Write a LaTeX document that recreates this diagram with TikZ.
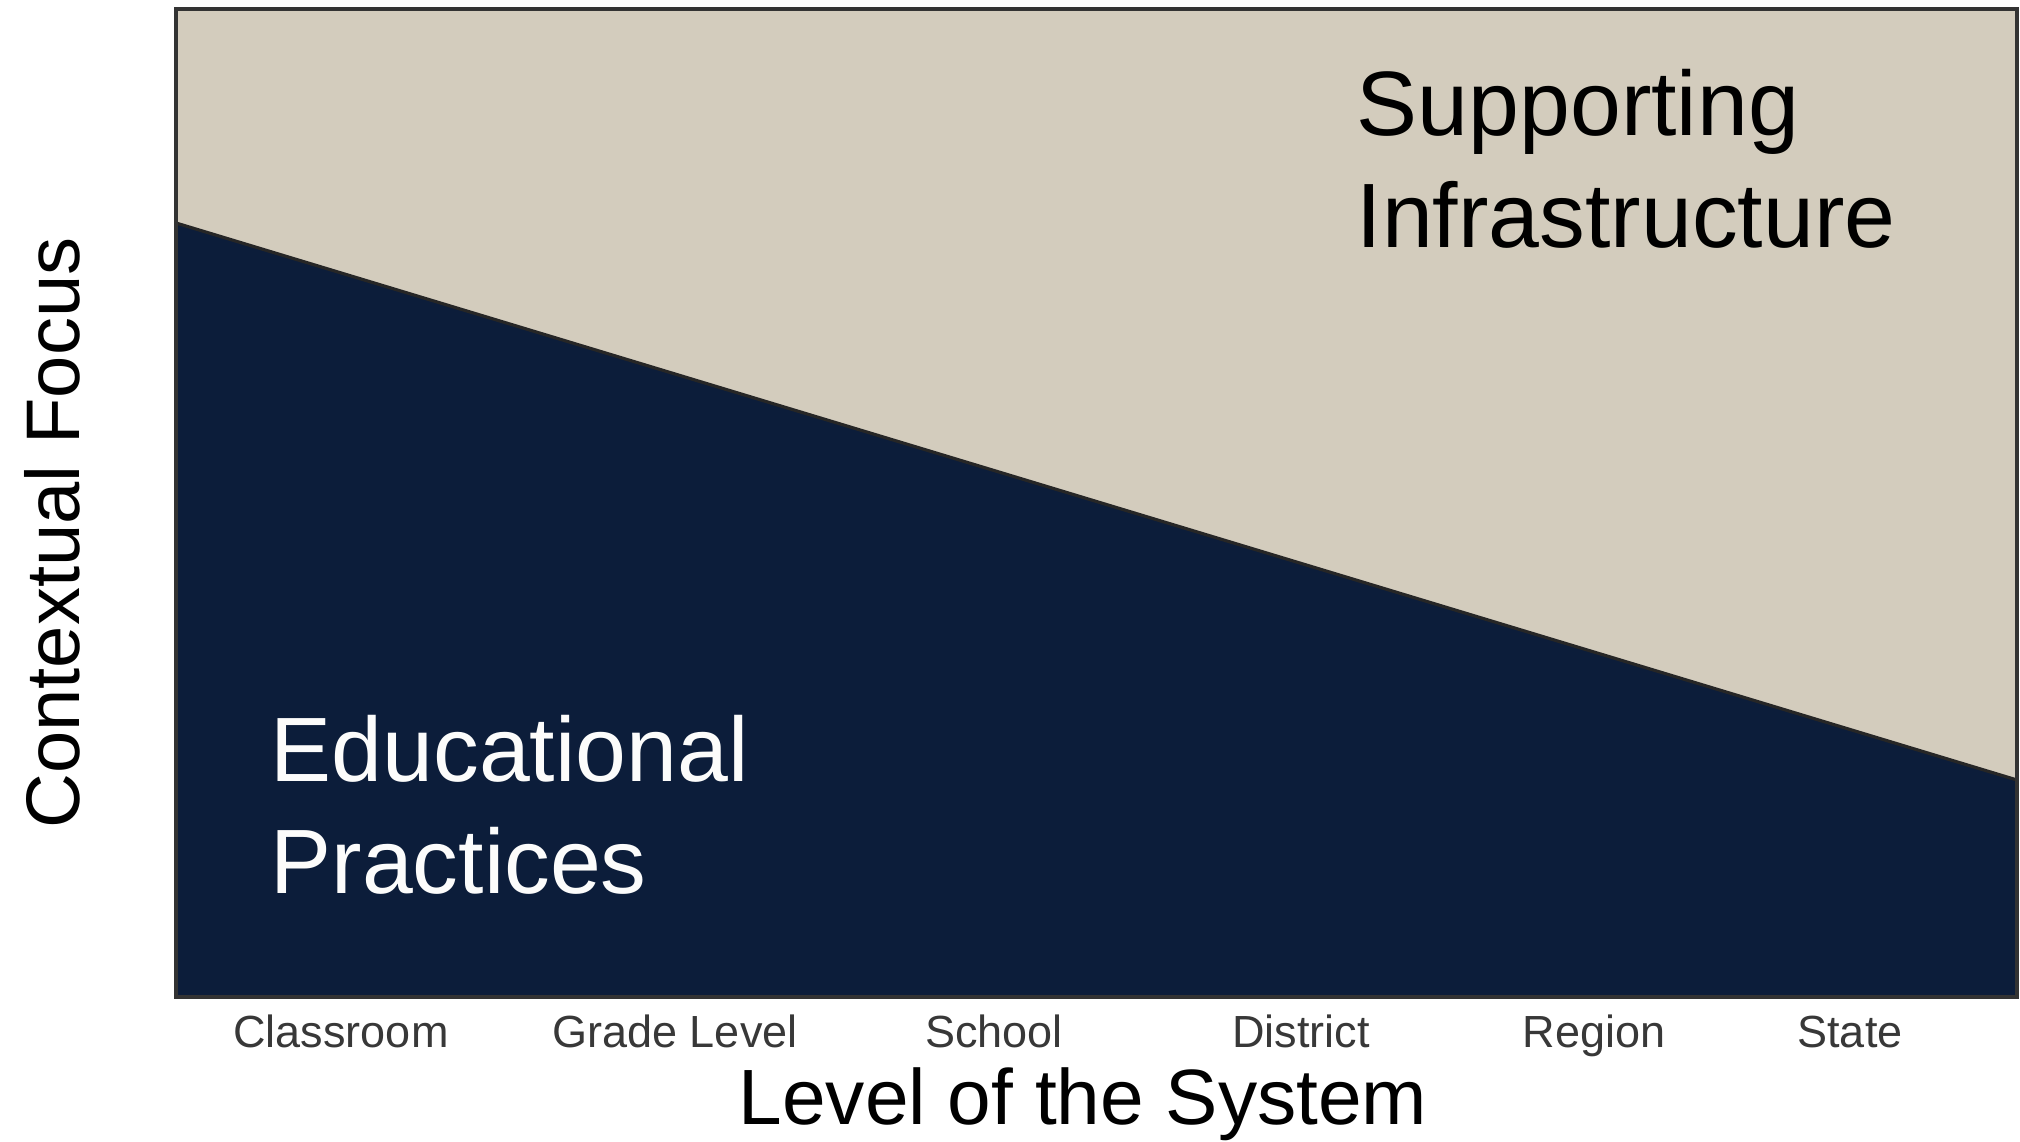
\documentclass[tikz,border=0pt]{standalone}
\usepackage{fontspec}
\setmainfont{Liberation Sans}
\usepackage{xcolor}
\definecolor{sand}{RGB}{211,204,189}
\definecolor{navy}{RGB}{12,29,58}
\tikzset{
	region/.style={font=\fontsize{26}{31.6}\selectfont, inner sep=0pt, align=left, anchor=base west},
	level/.style={font=\fontsize{12.8}{15}\selectfont, text=black!78, inner sep=0pt, anchor=base},
	axistitle/.style={font=\fontsize{22.3}{26}\selectfont, inner sep=0pt, anchor=base}
}

\begin{document}
\begin{tikzpicture}[x=0.01cm, y=-0.01cm]
	\useasboundingbox (0,0) rectangle (2020,1142);
	% the two areas
	\fill[sand] (176,9) rectangle (2017,997);
	\fill[navy] (176,223) -- (2017,780) -- (2017,997) -- (176,997) -- cycle;
	\draw[black!85, line width=0.9pt] (176,223) -- (2017,780);
	\draw[black!80, line width=0.9pt] (176,9) rectangle (2017,997);

	% base is the last line
	\node[region] (infra) at (1356,247) {Supporting\\Infrastructure};
	\node[region, text=white!94!sand] (practice) at (270,893) {Educational\\Practices};

	% levels along the bottom
	\foreach \id/\txt/\x in {classroom/Classroom/341, grade/Grade Level/675, school/School/994, district/District/1301, region/Region/1594, state/State/1850}
		\node[level] (\id) at (\x,1047) {\txt};

	\node[axistitle] (xtitle) at (1083,1124) {Level of the System};
	\node[axistitle, font=\fontsize{21.6}{26}\selectfont, rotate=90] (ytitle) at (80,533) {Contextual Focus};
\end{tikzpicture}
\end{document}
